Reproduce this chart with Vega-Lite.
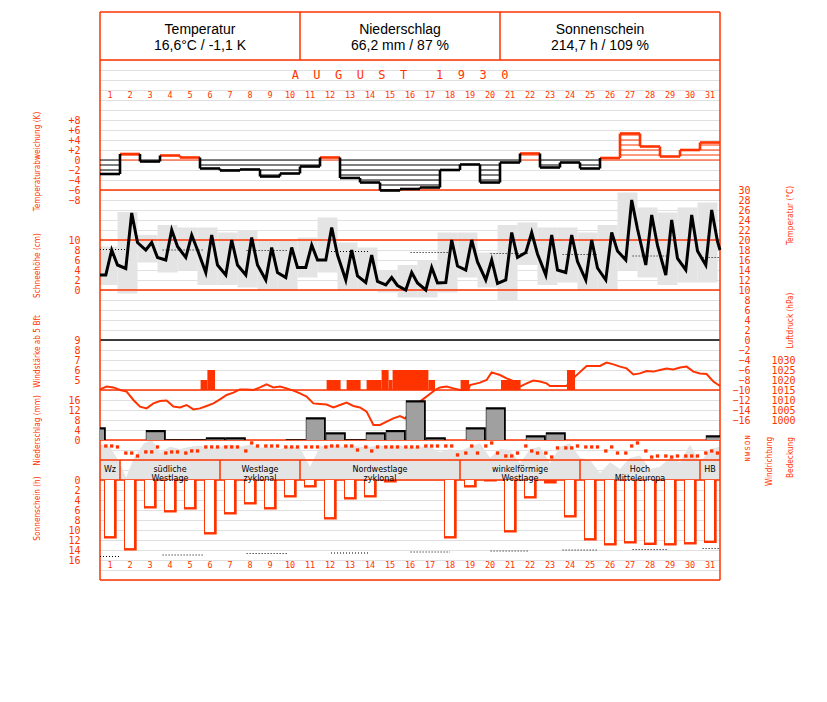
{
"$schema": "https://vega.github.io/schema/vega-lite/v6.json",
"width": 620, "height": 568,
"autosize": {"type": "none"},
"padding": {"left": 100, "top": 12, "right": 107, "bottom": 122},
"background": "white",
"config": {
 "view": {"stroke": null},
 "axis": {"domain": false, "ticks": false, "tickSize": 0, "grid": false, "labelColor": "#ff3300", "titleColor": "#ff3300", "labelFont": "DejaVu Sans Mono", "labelFontSize": 10, "titleFont": "Liberation Sans Narrow, DejaVu Sans Condensed, sans-serif", "titleFontSize": 8.2, "titleFontWeight": "normal", "labelPadding": 20, "titleAngle": -90, "titleAlign": "center", "titleBaseline": "middle", "labelFlush": false, "labelOverlap": false, "titleLimit": 1000}
},
"resolve": {"scale": {"y": "independent"}, "axis": {"y": "independent"}},
"datasets": {
 "dev": [{"day":1,"dev":-2.8},{"day":2,"dev":1.2},{"day":3,"dev":-0.3},{"day":4,"dev":0.9},{"day":5,"dev":0.5},{"day":6,"dev":-1.7},{"day":7,"dev":-2.1},{"day":8,"dev":-1.9},{"day":9,"dev":-3.3},{"day":10,"dev":-2.7},{"day":11,"dev":-1.3},{"day":12,"dev":0.5},{"day":13,"dev":-3.6},{"day":14,"dev":-4.5},{"day":15,"dev":-6.1},{"day":16,"dev":-5.8},{"day":17,"dev":-5.5},{"day":18,"dev":-2.0},{"day":19,"dev":-0.9},{"day":20,"dev":-4.5},{"day":21,"dev":-0.5},{"day":22,"dev":1.3},{"day":23,"dev":-1.5},{"day":24,"dev":-0.5},{"day":25,"dev":-1.7},{"day":26,"dev":0.4},{"day":27,"dev":5.3},{"day":28,"dev":2.7},{"day":29,"dev":0.7},{"day":30,"dev":2.0},{"day":31,"dev":3.5}],
 "sun": [{"day":1,"h":11.7},{"day":2,"h":14.1},{"day":3,"h":5.7},{"day":4,"h":6.5},{"day":5,"h":5.9},{"day":6,"h":10.9},{"day":7,"h":6.9},{"day":8,"h":4.9},{"day":9,"h":5.9},{"day":10,"h":3.5},{"day":11,"h":1.5},{"day":12,"h":7.9},{"day":13,"h":3.9},{"day":14,"h":3.5},{"day":15,"h":0.5},{"day":16,"h":0},{"day":17,"h":0},{"day":18,"h":11.7},{"day":19,"h":1.5},{"day":20,"h":0.3},{"day":21,"h":10.5},{"day":22,"h":3.7},{"day":23,"h":0.7},{"day":24,"h":7.5},{"day":25,"h":12.1},{"day":26,"h":13.1},{"day":27,"h":12.7},{"day":28,"h":13.0},{"day":29,"h":13.1},{"day":30,"h":12.9},{"day":31,"h":12.6}],
 "sunref": [{"x0":0,"x1":1,"h":15.3},{"x0":3.13,"x1":5.2,"h":15.0},{"x0":7.33,"x1":9.42,"h":14.7},{"x0":11.55,"x1":13.5,"h":14.6},{"x0":15.53,"x1":17.5,"h":14.4},{"x0":19.53,"x1":21.38,"h":14.2},{"x0":23.13,"x1":24.88,"h":14.0},{"x0":26.63,"x1":28.38,"h":13.9},{"x0":30.13,"x1":31,"h":13.7}],
 "precip": [{"day":0,"mm":5.1},{"day":3,"mm":4.0},{"day":4,"mm":0.3},{"day":5,"mm":0.3},{"day":6,"mm":1.1},{"day":7,"mm":1.1},{"day":10,"mm":0.3},{"day":11,"mm":9.1},{"day":12,"mm":3.1},{"day":13,"mm":0.3},{"day":14,"mm":3.1},{"day":15,"mm":4.0},{"day":16,"mm":15.9},{"day":17,"mm":1.1},{"day":19,"mm":5.1},{"day":20,"mm":13.1},{"day":22,"mm":1.9},{"day":23,"mm":3.1},{"day":31,"mm":1.9}],
 "wind": [{"x0":5.03,"x1":5.37,"bft":5},{"x0":5.37,"x1":5.75,"bft":6},{"x0":11.33,"x1":12.03,"bft":5},{"x0":12.33,"x1":13.03,"bft":5},{"x0":13.33,"x1":14.08,"bft":5},{"x0":14.08,"x1":14.43,"bft":6},{"x0":14.43,"x1":14.63,"bft":5},{"x0":14.63,"x1":16.42,"bft":6},{"x0":16.42,"x1":16.75,"bft":5},{"x0":18.03,"x1":18.45,"bft":5},{"x0":20.05,"x1":21.03,"bft":5},{"x0":23.35,"x1":23.75,"bft":6}],
 "pressure": [{"t":0,"p":1015.3},{"t":0.33,"p":1016.7},{"t":0.67,"p":1016.3},{"t":1.0,"p":1015},{"t":1.33,"p":1014.2},{"t":1.67,"p":1010},{"t":2.0,"p":1006.7},{"t":2.33,"p":1005.8},{"t":2.67,"p":1008.3},{"t":3.0,"p":1009.5},{"t":3.33,"p":1009.7},{"t":3.67,"p":1006.7},{"t":4.0,"p":1006.3},{"t":4.33,"p":1007.5},{"t":4.67,"p":1005.3},{"t":5.0,"p":1005.8},{"t":5.33,"p":1007},{"t":5.67,"p":1008.3},{"t":6.0,"p":1010.3},{"t":6.33,"p":1012.5},{"t":6.67,"p":1013.7},{"t":7.0,"p":1015.3},{"t":7.33,"p":1015.3},{"t":7.67,"p":1015},{"t":8.0,"p":1016.3},{"t":8.33,"p":1017.8},{"t":8.67,"p":1016.3},{"t":9.0,"p":1016.7},{"t":9.33,"p":1015.8},{"t":9.67,"p":1014.7},{"t":10.0,"p":1013.3},{"t":10.33,"p":1011.7},{"t":10.67,"p":1008.3},{"t":11.0,"p":1008},{"t":11.33,"p":1007.7},{"t":11.67,"p":1006.3},{"t":12.0,"p":1007.5},{"t":12.33,"p":1008.7},{"t":12.67,"p":1007},{"t":13.0,"p":1006.3},{"t":13.33,"p":1004.2},{"t":13.67,"p":997.5},{"t":14.0,"p":997.5},{"t":14.33,"p":999.2},{"t":14.67,"p":1000.8},{"t":15.0,"p":1002},{"t":15.25,"p":1000.8},{"t":16.0,"p":1009.2},{"t":16.75,"p":1015},{"t":17.0,"p":1016.3},{"t":17.33,"p":1016.7},{"t":17.67,"p":1015.8},{"t":18.0,"p":1015},{"t":18.42,"p":1015},{"t":18.5,"p":1017.5},{"t":19.0,"p":1018.7},{"t":19.33,"p":1020},{"t":19.58,"p":1023.8},{"t":20.0,"p":1022.5},{"t":20.33,"p":1020.8},{"t":20.67,"p":1019.5},{"t":21.0,"p":1016.7},{"t":21.33,"p":1018.3},{"t":21.67,"p":1019.7},{"t":22.0,"p":1019.2},{"t":22.33,"p":1018.3},{"t":22.5,"p":1017},{"t":23.33,"p":1017},{"t":23.75,"p":1021.7},{"t":24.33,"p":1027},{"t":25.0,"p":1027},{"t":25.33,"p":1028.7},{"t":25.67,"p":1027.8},{"t":26.0,"p":1026.7},{"t":26.33,"p":1025.8},{"t":26.67,"p":1022.8},{"t":27.0,"p":1023.3},{"t":27.33,"p":1024.5},{"t":27.67,"p":1024.2},{"t":28.0,"p":1025},{"t":28.33,"p":1025.7},{"t":28.67,"p":1025.3},{"t":29.0,"p":1026.2},{"t":29.33,"p":1026.7},{"t":29.67,"p":1024.2},{"t":30.0,"p":1023.3},{"t":30.33,"p":1023},{"t":30.67,"p":1019.2},{"t":31.0,"p":1017}],
 "temp": [{"t":0.0,"c":13},{"t":0.29,"c":13},{"t":0.585,"c":18},{"t":0.875,"c":15},{"t":1.29,"c":14.3},{"t":1.585,"c":25.4},{"t":1.875,"c":19.5},{"t":2.29,"c":18},{"t":2.585,"c":19.5},{"t":2.875,"c":16.5},{"t":3.29,"c":16},{"t":3.585,"c":22},{"t":3.875,"c":18.7},{"t":4.29,"c":16.5},{"t":4.585,"c":21},{"t":4.875,"c":18},{"t":5.29,"c":13.5},{"t":5.585,"c":21},{"t":5.875,"c":15},{"t":6.29,"c":13},{"t":6.585,"c":20},{"t":6.875,"c":15},{"t":7.29,"c":13},{"t":7.585,"c":20.5},{"t":7.875,"c":15},{"t":8.29,"c":12},{"t":8.585,"c":18.5},{"t":8.875,"c":13.5},{"t":9.29,"c":12.5},{"t":9.585,"c":18.5},{"t":9.875,"c":14.5},{"t":10.29,"c":14.5},{"t":10.585,"c":19},{"t":10.875,"c":16},{"t":11.29,"c":16},{"t":11.585,"c":22.5},{"t":11.875,"c":17},{"t":12.29,"c":12},{"t":12.585,"c":18},{"t":12.875,"c":12.8},{"t":13.29,"c":11.5},{"t":13.585,"c":17},{"t":13.875,"c":11.7},{"t":14.29,"c":11},{"t":14.585,"c":12.5},{"t":14.875,"c":10.9},{"t":15.29,"c":10},{"t":15.585,"c":13.5},{"t":15.875,"c":11.4},{"t":16.29,"c":10},{"t":16.585,"c":14.5},{"t":16.875,"c":11.4},{"t":17.29,"c":11.5},{"t":17.585,"c":20},{"t":17.875,"c":14.8},{"t":18.29,"c":14},{"t":18.585,"c":20},{"t":18.875,"c":15.6},{"t":19.29,"c":12},{"t":19.585,"c":16},{"t":19.875,"c":11.3},{"t":20.29,"c":12},{"t":20.585,"c":21.5},{"t":20.875,"c":16.5},{"t":21.29,"c":17.5},{"t":21.585,"c":21.5},{"t":21.875,"c":17.2},{"t":22.29,"c":13},{"t":22.585,"c":21},{"t":22.875,"c":14},{"t":23.29,"c":13.5},{"t":23.585,"c":21},{"t":23.875,"c":15.7},{"t":24.29,"c":12},{"t":24.585,"c":20},{"t":24.875,"c":14.4},{"t":25.29,"c":12},{"t":25.585,"c":21.5},{"t":25.875,"c":17.8},{"t":26.29,"c":16},{"t":26.585,"c":28},{"t":26.875,"c":22.2},{"t":27.29,"c":15},{"t":27.585,"c":25},{"t":27.875,"c":18.9},{"t":28.29,"c":13},{"t":28.585,"c":24},{"t":28.875,"c":16.3},{"t":29.29,"c":14},{"t":29.585,"c":25},{"t":29.875,"c":17.8},{"t":30.29,"c":15},{"t":30.585,"c":26},{"t":30.875,"c":19.7},{"t":31.0,"c":18}],
 "trange": [{"day":1,"lo":11,"hi":18.7},{"day":2,"lo":9.3,"hi":25.6},{"day":3,"lo":15.5,"hi":21},{"day":4,"lo":13.5,"hi":23},{"day":5,"lo":14,"hi":22.5},{"day":6,"lo":11,"hi":22.5},{"day":7,"lo":11,"hi":21.5},{"day":8,"lo":10.5,"hi":22},{"day":9,"lo":10,"hi":20},{"day":10,"lo":10,"hi":20},{"day":11,"lo":12.5,"hi":20.5},{"day":12,"lo":13.5,"hi":24.5},{"day":13,"lo":10,"hi":19.5},{"day":14,"lo":10,"hi":18.5},{"day":15,"lo":9.5,"hi":14},{"day":16,"lo":8.5,"hi":15},{"day":17,"lo":8.5,"hi":16},{"day":18,"lo":9.5,"hi":21.5},{"day":19,"lo":12.5,"hi":21.5},{"day":20,"lo":10.5,"hi":17.5},{"day":21,"lo":8,"hi":23},{"day":22,"lo":15,"hi":23.5},{"day":23,"lo":11,"hi":22.5},{"day":24,"lo":11.5,"hi":22.5},{"day":25,"lo":10,"hi":21.5},{"day":26,"lo":10,"hi":23},{"day":27,"lo":14,"hi":29.5},{"day":28,"lo":12.5,"hi":26.5},{"day":29,"lo":11,"hi":25.5},{"day":30,"lo":11.5,"hi":26.5},{"day":31,"lo":11.5,"hi":27.5}],
 "tref": [{"x0":0,"x1":1.5,"c":18.1},{"x0":3.13,"x1":5.2,"c":18.0},{"x0":7.33,"x1":9.42,"c":17.9},{"x0":11.55,"x1":13.5,"c":17.7},{"x0":15.53,"x1":17.5,"c":17.5},{"x0":19.53,"x1":21.38,"c":17.3},{"x0":23.13,"x1":24.88,"c":17.1},{"x0":26.63,"x1":28.38,"c":16.8},{"x0":30.13,"x1":31,"c":16.5}],
 "cloud": [{"t":0.29,"c":7.5},{"t":0.585,"c":7.5},{"t":0.875,"c":6.9},{"t":1.29,"c":3.1},{"t":1.585,"c":3.1},{"t":1.875,"c":1.25},{"t":2.29,"c":3.8},{"t":2.585,"c":3.8},{"t":2.875,"c":6.9},{"t":3.29,"c":3.1},{"t":3.585,"c":3.8},{"t":3.875,"c":3.8},{"t":4.29,"c":3.1},{"t":4.585,"c":4.4},{"t":4.875,"c":4.4},{"t":5.29,"c":6.9},{"t":5.585,"c":6.9},{"t":5.875,"c":6.9},{"t":6.29,"c":6.9},{"t":6.585,"c":6.9},{"t":6.875,"c":6.9},{"t":7.29,"c":4.4},{"t":7.585,"c":9.4},{"t":7.875,"c":7.5},{"t":8.29,"c":7.5},{"t":8.585,"c":7.5},{"t":8.875,"c":7.5},{"t":9.29,"c":6.9},{"t":9.585,"c":6.9},{"t":9.875,"c":6.9},{"t":10.29,"c":6.9},{"t":10.585,"c":6.9},{"t":10.875,"c":6.9},{"t":11.29,"c":6.9},{"t":11.585,"c":7.5},{"t":11.875,"c":7.5},{"t":12.29,"c":7.5},{"t":12.585,"c":7.5},{"t":12.875,"c":5},{"t":13.29,"c":6.9},{"t":13.585,"c":4.4},{"t":13.875,"c":6.9},{"t":14.29,"c":6.9},{"t":14.585,"c":6.9},{"t":14.875,"c":6.9},{"t":15.29,"c":6.9},{"t":15.585,"c":6.9},{"t":15.875,"c":6.9},{"t":16.29,"c":7.5},{"t":16.585,"c":7.5},{"t":16.875,"c":7.5},{"t":17.29,"c":7.5},{"t":17.585,"c":7.5},{"t":17.875,"c":1.9},{"t":18.29,"c":3.1},{"t":18.585,"c":7.5},{"t":18.875,"c":3.1},{"t":19.29,"c":7.5},{"t":19.585,"c":9.4},{"t":19.875,"c":3.1},{"t":20.29,"c":1.25},{"t":20.585,"c":1.25},{"t":20.875,"c":3.1},{"t":21.29,"c":7.5},{"t":21.585,"c":4.4},{"t":21.875,"c":3.1},{"t":22.29,"c":3.1},{"t":22.585,"c":0.6},{"t":22.875,"c":6.3},{"t":23.29,"c":6.3},{"t":23.585,"c":6.3},{"t":23.875,"c":7.5},{"t":24.29,"c":6.9},{"t":24.585,"c":6.9},{"t":24.875,"c":6.9},{"t":25.29,"c":4.4},{"t":25.585,"c":6.9},{"t":25.875,"c":3.1},{"t":26.29,"c":3.1},{"t":26.585,"c":7.5},{"t":26.875,"c":9.4},{"t":27.29,"c":4.4},{"t":27.585,"c":0.6},{"t":27.875,"c":1.25},{"t":28.29,"c":1.25},{"t":28.585,"c":0.6},{"t":28.875,"c":1.25},{"t":29.29,"c":1.25},{"t":29.585,"c":1.25},{"t":29.875,"c":1.25},{"t":30.29,"c":3.1},{"t":30.585,"c":4.4},{"t":30.875,"c":3.1}],
 "wdir": [{"t":0,"v":320},{"t":0.5,"v":300},{"t":1.0,"v":150},{"t":1.3,"v":20},{"t":1.7,"v":200},{"t":2.2,"v":330},{"t":2.6,"v":360},{"t":3.0,"v":250},{"t":3.5,"v":300},{"t":4.0,"v":280},{"t":4.5,"v":300},{"t":5.0,"v":310},{"t":5.5,"v":280},{"t":6.0,"v":300},{"t":6.5,"v":320},{"t":7.0,"v":300},{"t":7.5,"v":320},{"t":8.0,"v":290},{"t":8.5,"v":300},{"t":9.0,"v":280},{"t":9.5,"v":300},{"t":10.0,"v":290},{"t":10.5,"v":120},{"t":11.0,"v":300},{"t":11.5,"v":320},{"t":12.0,"v":300},{"t":12.5,"v":310},{"t":13.0,"v":300},{"t":13.5,"v":300},{"t":14.0,"v":310},{"t":14.5,"v":300},{"t":15.0,"v":310},{"t":15.5,"v":290},{"t":16.0,"v":300},{"t":16.5,"v":300},{"t":17.0,"v":250},{"t":17.5,"v":280},{"t":18.0,"v":260},{"t":18.5,"v":300},{"t":19.0,"v":330},{"t":19.5,"v":200},{"t":20.0,"v":280},{"t":20.5,"v":270},{"t":21.0,"v":150},{"t":21.5,"v":280},{"t":22.0,"v":300},{"t":22.5,"v":150},{"t":23.0,"v":300},{"t":23.5,"v":330},{"t":24.0,"v":200},{"t":24.5,"v":180},{"t":25.0,"v":60},{"t":25.5,"v":160},{"t":26.0,"v":100},{"t":26.5,"v":200},{"t":27.0,"v":220},{"t":27.5,"v":100},{"t":28.0,"v":120},{"t":28.5,"v":200},{"t":29.0,"v":160},{"t":29.5,"v":320},{"t":30.0,"v":150},{"t":30.5,"v":280},{"t":31.0,"v":300}],
 "gwl": [{"lab":"Wz","mid":0.5},{"lab":"südliche\nWestlage","mid":3.5},{"lab":"Westlage\nzyklonal","mid":8},{"lab":"Nordwestlage\nzyklonal","mid":14},{"lab":"winkelförmige\nWestlage","mid":21},{"lab":"Hoch\nMitteleuropa","mid":27},{"lab":"HB","mid":30.5}],
 "hlines": [{"r":-4.8,"col":"#ff3300"},{"r":0,"col":"#ff3300"},{"r":13,"col":"#ff3300"},{"r":18,"col":"#ff3300"},{"r":23,"col":"#ff3300"},{"r":28,"col":"black"},{"r":33,"col":"#ff3300"},{"r":38,"col":"#ff3300"},{"r":40,"col":"#ff3300"},{"r":42,"col":"#ff3300"},{"r":52,"col":"#ff3300"}],
 "vlines": [{"t":0,"r0":-4.8,"r1":52},{"t":31,"r0":-4.8,"r1":52},{"t":10,"r0":-4.8,"r1":0},{"t":20,"r0":-4.8,"r1":0},{"t":1,"r0":40,"r1":42},{"t":6,"r0":40,"r1":42},{"t":10,"r0":40,"r1":42},{"t":18,"r0":40,"r1":42},{"t":24,"r0":40,"r1":42},{"t":30,"r0":40,"r1":42}],
 "header": [{"t":5,"r":-3.0,"txt":"Temperatur"},{"t":5,"r":-1.4,"txt":"16,6°C / -1,1 K"},{"t":15,"r":-3.0,"txt":"Niederschlag"},{"t":15,"r":-1.4,"txt":"66,2 mm / 87 %"},{"t":25,"r":-3.0,"txt":"Sonnenschein"},{"t":25,"r":-1.4,"txt":"214,7 h / 109 %"}]
},
"layer": [
 {"data": {"values": [{"x0":0,"x1":31,"r0":-4.8,"r1":0}]}, "mark": {"type": "rect", "fill": "white"},
  "encoding": {"x": {"field": "x0", "type": "quantitative", "scale": {"domain": [0,31], "nice": false, "zero": false}, "axis": {"values": [0,1,2,3,4,5,6,7,8,9,10,11,12,13,14,15,16,17,18,19,20,21,22,23,24,25,26,27,28,29,30,31], "grid": true, "gridColor": "#e0e0e0", "gridWidth": 1, "labels": false, "title": null}}, "x2": {"field": "x1"},
   "y": {"field": "r0", "type": "quantitative", "scale": {"domain": [-4.8,52], "range": [0,568], "nice": false, "zero": false}, "axis": {"orient": "left", "values": [0,1,2,3,4,5,6,7,8,9,10,11,12,13,14,15,16,17,18,19,20,21,22,23,24,25,26,27,28,29,30,31,32,33,34,35,36,37,38,39,40,41,42,43,44,45,46,47,48,49,50,51,52], "grid": true, "gridColor": "#e0e0e0", "gridWidth": 1, "labels": false, "title": null}}, "y2": {"field": "r1"}}},
 {"data": {"name": "trange"}, "mark": {"type": "rect", "fill": "#e4e4e4", "xOffset": -22.5, "x2Offset": -2.5, "clip": true},
  "encoding": {"x": {"field": "day", "type": "quantitative", "scale": {"domain": [0,31], "nice": false, "zero": false}, "axis": null}, "x2": {"field": "day"},
   "y": {"field": "lo", "type": "quantitative", "scale": {"domain": [-16,30], "range": [408,178], "nice": false, "zero": false}, "axis": null}, "y2": {"field": "hi"}}},
 {"data": {"name": "wdir"}, "mark": {"type": "area", "fill": "#e4e4e4"},
  "encoding": {"x": {"field": "t", "type": "quantitative", "scale": {"domain": [0,31], "nice": false, "zero": false}, "axis": null},
   "y": {"field": "v", "type": "quantitative", "scale": {"domain": [0,360], "range": [468,428], "nice": false, "zero": false}, "axis": null}, "y2": {"datum": 0}}},
 {"data": {"name": "hlines"}, "mark": {"type": "rule", "strokeWidth": 1.5},
  "encoding": {
   "y": {"field": "r", "type": "quantitative", "scale": {"domain": [-4.8,52], "range": [0,568], "nice": false, "zero": false}, "axis": null},
   "color": {"field": "col", "type": "nominal", "scale": null}}},
 {"data": {"name": "vlines"}, "mark": {"type": "rule", "strokeWidth": 1.5, "color": "#ff3300"},
  "encoding": {"x": {"field": "t", "type": "quantitative", "scale": {"domain": [0,31], "nice": false, "zero": false}, "axis": null},
   "y": {"field": "r0", "type": "quantitative", "scale": {"domain": [-4.8,52], "range": [0,568], "nice": false, "zero": false}, "axis": null}, "y2": {"field": "r1"}}},
 {"data": {"name": "header"}, "mark": {"type": "text", "font": "Liberation Sans", "fontSize": 14, "color": "black", "baseline": "middle"},
  "encoding": {"x": {"field": "t", "type": "quantitative", "scale": {"domain": [0,31], "nice": false, "zero": false}, "axis": null},
   "y": {"field": "r", "type": "quantitative", "scale": {"domain": [-4.8,52], "range": [0,568], "nice": false, "zero": false}, "axis": null}, "text": {"field": "txt", "type": "nominal"}}},
 {"data": {"values": [{"txt": "A\u00a0\u00a0U\u00a0\u00a0G\u00a0\u00a0U\u00a0\u00a0S\u00a0\u00a0T\u00a0\u00a0\u00a0\u00a01\u00a0\u00a09\u00a0\u00a03\u00a0\u00a00"}]}, "mark": {"type": "text", "font": "DejaVu Sans Mono", "fontSize": 12, "color": "#ff3300", "baseline": "middle"},
  "encoding": {"x": {"datum": 15, "type": "quantitative", "scale": {"domain": [0,31], "nice": false, "zero": false}, "axis": null},
   "y": {"datum": 1.5, "type": "quantitative", "scale": {"domain": [-4.8,52], "range": [0,568], "nice": false, "zero": false}, "axis": null}, "text": {"field": "txt", "type": "nominal"}}},
 {"data": {"name": "dev"}, "mark": {"type": "text", "font": "DejaVu Sans Mono", "fontSize": 8.5, "color": "#ff3300", "baseline": "middle", "xOffset": -10},
  "encoding": {"x": {"field": "day", "type": "quantitative", "scale": {"domain": [0,31], "nice": false, "zero": false}, "axis": null},
   "y": {"datum": 3.5, "type": "quantitative", "scale": {"domain": [-4.8,52], "range": [0,568], "nice": false, "zero": false}, "axis": null}, "text": {"field": "day", "type": "nominal"}}},
 {"data": {"name": "dev"}, "mark": {"type": "text", "font": "DejaVu Sans Mono", "fontSize": 8.5, "color": "#ff3300", "baseline": "middle", "xOffset": -10},
  "encoding": {"x": {"field": "day", "type": "quantitative", "scale": {"domain": [0,31], "nice": false, "zero": false}, "axis": null},
   "y": {"datum": 50.5, "type": "quantitative", "scale": {"domain": [-4.8,52], "range": [0,568], "nice": false, "zero": false}, "axis": null}, "text": {"field": "day", "type": "nominal"}}},
 {"data": {"name": "dev"}, "mark": {"type": "rule", "strokeWidth": 1, "xOffset": -20},
  "encoding": {"x": {"field": "day", "type": "quantitative", "scale": {"domain": [0,31], "nice": false, "zero": false}, "axis": null}, "x2": {"field": "day"},
   "y": {"datum": 0, "type": "quantitative", "scale": {"domain": [-8,8], "range": [188,108], "nice": false, "zero": false}, "axis": null},
   "color": {"condition": {"test": "datum.dev >= 0", "value": "#ff3300"}, "value": "black"}}},
 {"data": {"name": "dev"}, "transform": [{"filter": "datum.dev <= -1"}], "mark": {"type": "rule", "strokeWidth": 1, "xOffset": -20, "color": "black"},
  "encoding": {"x": {"field": "day", "type": "quantitative", "scale": {"domain": [0,31], "nice": false, "zero": false}, "axis": null}, "x2": {"field": "day"},
   "y": {"datum": -1, "type": "quantitative", "scale": {"domain": [-8,8], "range": [188,108], "nice": false, "zero": false}, "axis": null}}},
 {"data": {"name": "dev"}, "transform": [{"filter": "datum.dev <= -2"}], "mark": {"type": "rule", "strokeWidth": 1, "xOffset": -20, "color": "black"},
  "encoding": {"x": {"field": "day", "type": "quantitative", "scale": {"domain": [0,31], "nice": false, "zero": false}, "axis": null}, "x2": {"field": "day"},
   "y": {"datum": -2, "type": "quantitative", "scale": {"domain": [-8,8], "range": [188,108], "nice": false, "zero": false}, "axis": null}}},
 {"data": {"name": "dev"}, "transform": [{"filter": "datum.dev <= -3"}], "mark": {"type": "rule", "strokeWidth": 1, "xOffset": -20, "color": "black"},
  "encoding": {"x": {"field": "day", "type": "quantitative", "scale": {"domain": [0,31], "nice": false, "zero": false}, "axis": null}, "x2": {"field": "day"},
   "y": {"datum": -3, "type": "quantitative", "scale": {"domain": [-8,8], "range": [188,108], "nice": false, "zero": false}, "axis": null}}},
 {"data": {"name": "dev"}, "transform": [{"filter": "datum.dev <= -4"}], "mark": {"type": "rule", "strokeWidth": 1, "xOffset": -20, "color": "black"},
  "encoding": {"x": {"field": "day", "type": "quantitative", "scale": {"domain": [0,31], "nice": false, "zero": false}, "axis": null}, "x2": {"field": "day"},
   "y": {"datum": -4, "type": "quantitative", "scale": {"domain": [-8,8], "range": [188,108], "nice": false, "zero": false}, "axis": null}}},
 {"data": {"name": "dev"}, "transform": [{"filter": "datum.dev <= -5"}], "mark": {"type": "rule", "strokeWidth": 1, "xOffset": -20, "color": "black"},
  "encoding": {"x": {"field": "day", "type": "quantitative", "scale": {"domain": [0,31], "nice": false, "zero": false}, "axis": null}, "x2": {"field": "day"},
   "y": {"datum": -5, "type": "quantitative", "scale": {"domain": [-8,8], "range": [188,108], "nice": false, "zero": false}, "axis": null}}},
 {"data": {"name": "dev"}, "transform": [{"filter": "datum.dev <= -6"}], "mark": {"type": "rule", "strokeWidth": 1, "xOffset": -20, "color": "black"},
  "encoding": {"x": {"field": "day", "type": "quantitative", "scale": {"domain": [0,31], "nice": false, "zero": false}, "axis": null}, "x2": {"field": "day"},
   "y": {"datum": -6, "type": "quantitative", "scale": {"domain": [-8,8], "range": [188,108], "nice": false, "zero": false}, "axis": null}}},
 {"data": {"name": "dev"}, "transform": [{"filter": "datum.dev >= 1"}], "mark": {"type": "rule", "strokeWidth": 1, "xOffset": -20, "color": "#ff3300"},
  "encoding": {"x": {"field": "day", "type": "quantitative", "scale": {"domain": [0,31], "nice": false, "zero": false}, "axis": null}, "x2": {"field": "day"},
   "y": {"datum": 1, "type": "quantitative", "scale": {"domain": [-8,8], "range": [188,108], "nice": false, "zero": false}, "axis": null}}},
 {"data": {"name": "dev"}, "transform": [{"filter": "datum.dev >= 2"}], "mark": {"type": "rule", "strokeWidth": 1, "xOffset": -20, "color": "#ff3300"},
  "encoding": {"x": {"field": "day", "type": "quantitative", "scale": {"domain": [0,31], "nice": false, "zero": false}, "axis": null}, "x2": {"field": "day"},
   "y": {"datum": 2, "type": "quantitative", "scale": {"domain": [-8,8], "range": [188,108], "nice": false, "zero": false}, "axis": null}}},
 {"data": {"name": "dev"}, "transform": [{"filter": "datum.dev >= 3"}], "mark": {"type": "rule", "strokeWidth": 1, "xOffset": -20, "color": "#ff3300"},
  "encoding": {"x": {"field": "day", "type": "quantitative", "scale": {"domain": [0,31], "nice": false, "zero": false}, "axis": null}, "x2": {"field": "day"},
   "y": {"datum": 3, "type": "quantitative", "scale": {"domain": [-8,8], "range": [188,108], "nice": false, "zero": false}, "axis": null}}},
 {"data": {"name": "dev"}, "transform": [{"filter": "datum.dev >= 4"}], "mark": {"type": "rule", "strokeWidth": 1, "xOffset": -20, "color": "#ff3300"},
  "encoding": {"x": {"field": "day", "type": "quantitative", "scale": {"domain": [0,31], "nice": false, "zero": false}, "axis": null}, "x2": {"field": "day"},
   "y": {"datum": 4, "type": "quantitative", "scale": {"domain": [-8,8], "range": [188,108], "nice": false, "zero": false}, "axis": null}}},
 {"data": {"name": "dev"}, "transform": [{"filter": "datum.dev >= 5"}], "mark": {"type": "rule", "strokeWidth": 1, "xOffset": -20, "color": "#ff3300"},
  "encoding": {"x": {"field": "day", "type": "quantitative", "scale": {"domain": [0,31], "nice": false, "zero": false}, "axis": null}, "x2": {"field": "day"},
   "y": {"datum": 5, "type": "quantitative", "scale": {"domain": [-8,8], "range": [188,108], "nice": false, "zero": false}, "axis": null}}},
 {"data": {"name": "dev"}, "mark": {"type": "rect", "xOffset": -20, "yOffset": -1.3, "y2Offset": 1.3},
  "encoding": {"x": {"field": "day", "type": "quantitative", "scale": {"domain": [0,31], "nice": false, "zero": false}, "axis": null}, "x2": {"field": "day"},
   "y": {"field": "dev", "type": "quantitative", "scale": {"domain": [-8,8], "range": [188,108], "nice": false, "zero": false}, "axis": {"orient": "left", "values": [-8,-6,-4,-2,0,2,4,6,8], "labelExpr": "datum.value > 0 ? '+' + datum.label : datum.label", "title": "Temperaturabweichung (K)", "titleX": -63, "titleY": 149}}, "y2": {"field": "dev"},
   "color": {"condition": {"test": "datum.dev >= 0", "value": "#ff3300"}, "value": "black"}}},
 {"data": {"name": "dev"}, "transform": [{"window": [{"op": "lag", "field": "dev", "as": "prev"}], "sort": [{"field": "day"}]}, {"filter": "datum.prev != null"}], "mark": {"type": "rule", "strokeWidth": 2.6, "xOffset": -20},
  "encoding": {"x": {"field": "day", "type": "quantitative", "scale": {"domain": [0,31], "nice": false, "zero": false}, "axis": null},
   "y": {"field": "prev", "type": "quantitative", "scale": {"domain": [-8,8], "range": [188,108], "nice": false, "zero": false}, "axis": null}, "y2": {"field": "dev"},
   "color": {"condition": {"test": "datum.dev >= 0 && datum.prev >= 0", "value": "#ff3300"}, "value": "black"}}},
 {"data": {"name": "tref"}, "mark": {"type": "rule", "strokeWidth": 1, "strokeDash": [1,2], "color": "black"},
  "encoding": {"x": {"field": "x0", "type": "quantitative", "scale": {"domain": [0,31], "nice": false, "zero": false}, "axis": null}, "x2": {"field": "x1"},
   "y": {"field": "c", "type": "quantitative", "scale": {"domain": [-16,30], "range": [408,178], "nice": false, "zero": false}, "axis": null}}},
 {"data": {"name": "temp"}, "mark": {"type": "line", "strokeWidth": 3, "color": "black", "strokeJoin": "miter"},
  "encoding": {"x": {"field": "t", "type": "quantitative", "scale": {"domain": [0,31], "nice": false, "zero": false}, "axis": null},
   "y": {"field": "c", "type": "quantitative", "scale": {"domain": [-16,30], "range": [408,178], "nice": false, "zero": false}, "axis": {"orient": "right", "values": [30,28,26,24,22,20,18,16,14,12,10,8,6,4,2,0,-2,-4,-6,-8,-10,-12,-14,-16], "labelAlign": "right", "labelPadding": 30, "title": "Temperatur (°C)", "titleX": 70, "titleY": 203}}}},
 {"data": {"values": [{"s": 0}]}, "mark": {"type": "point", "opacity": 0},
  "encoding": {"x": {"datum": 1, "type": "quantitative", "scale": {"domain": [0,31], "nice": false, "zero": false}, "axis": null},
   "y": {"field": "s", "type": "quantitative", "scale": {"domain": [0,10], "range": [278,228], "nice": false, "zero": false}, "axis": {"orient": "left", "values": [0,2,4,6,8,10], "title": "Schneehöhe (cm)", "titleX": -63, "titleY": 253}}}},
 {"data": {"name": "wind"}, "mark": {"type": "rect", "color": "#ff3300"},
  "encoding": {"x": {"field": "x0", "type": "quantitative", "scale": {"domain": [0,31], "nice": false, "zero": false}, "axis": null}, "x2": {"field": "x1"},
   "y": {"field": "bft", "type": "quantitative", "scale": {"domain": [4,9], "range": [378,328], "nice": false, "zero": false}, "axis": {"orient": "left", "values": [5,6,7,8,9], "title": "Windstärke ab 5 Bft", "titleX": -63, "titleY": 339}}, "y2": {"datum": 4}}},
 {"data": {"name": "pressure"}, "mark": {"type": "line", "strokeWidth": 2, "color": "#ff3300"},
  "encoding": {"x": {"field": "t", "type": "quantitative", "scale": {"domain": [0,31], "nice": false, "zero": false}, "axis": null},
   "y": {"field": "p", "type": "quantitative", "scale": {"domain": [1000,1030], "range": [408,348], "nice": false, "zero": false}, "axis": {"orient": "right", "values": [1000,1005,1010,1015,1020,1025,1030], "format": "d", "labelAlign": "right", "labelPadding": 75, "title": "Luftdruck (hPa)", "titleX": 70, "titleY": 308}}}},
 {"data": {"name": "precip"}, "mark": {"type": "rect", "color": "black", "xOffset": -14.2, "x2Offset": 5.8, "clip": true},
  "encoding": {"x": {"field": "day", "type": "quantitative", "scale": {"domain": [0,31], "nice": false, "zero": false}, "axis": null}, "x2": {"field": "day"},
   "y": {"field": "mm", "type": "quantitative", "scale": {"domain": [0,16], "range": [428,388], "nice": false, "zero": false}, "axis": {"orient": "left", "values": [0,4,8,12,16], "title": "Niederschlag (mm)", "titleX": -63, "titleY": 418}}, "y2": {"datum": 0}}},
 {"data": {"name": "precip"}, "transform": [{"filter": "datum.mm >= 1"}], "mark": {"type": "rect", "color": "#a0a0a0", "xOffset": -13.7, "x2Offset": 4.0, "yOffset": 2.2, "clip": true},
  "encoding": {"x": {"field": "day", "type": "quantitative", "scale": {"domain": [0,31], "nice": false, "zero": false}, "axis": null}, "x2": {"field": "day"},
   "y": {"field": "mm", "type": "quantitative", "scale": {"domain": [0,16], "range": [428,388], "nice": false, "zero": false}, "axis": null}, "y2": {"datum": 0}}},
 {"data": {"name": "cloud"}, "mark": {"type": "square", "color": "#ff3300", "size": 11, "opacity": 1, "filled": true},
  "encoding": {"x": {"field": "t", "type": "quantitative", "scale": {"domain": [0,31], "nice": false, "zero": false}, "axis": null},
   "y": {"field": "c", "type": "quantitative", "scale": {"domain": [0,10], "range": [446,430], "nice": false, "zero": false}, "axis": {"orient": "right", "labels": false, "title": "Bedeckung", "titleX": 70, "titleY": 445}}}},
 {"data": {"values": [{"w": 0}]}, "mark": {"type": "point", "opacity": 0},
  "encoding": {"x": {"datum": 1, "type": "quantitative", "scale": {"domain": [0,31], "nice": false, "zero": false}, "axis": null},
   "y": {"field": "w", "type": "quantitative", "scale": {"domain": [0,360], "range": [425,447], "nice": false, "zero": false}, "axis": {"orient": "right", "values": [0,90,180,270,360], "labelExpr": "datum.value == 90 ? 'O' : datum.value == 180 ? 'S' : datum.value == 270 ? 'W' : 'N'", "labelFontSize": 7, "labelAngle": -90, "labelAlign": "center", "labelBaseline": "middle", "labelPadding": 27, "title": "Windrichtung", "titleX": 49, "titleY": 449}}}},
 {"data": {"name": "sun"}, "transform": [{"filter": "datum.h > 0"}], "mark": {"type": "rect", "color": "#ff3300", "xOffset": -16, "x2Offset": -3.3},
  "encoding": {"x": {"field": "day", "type": "quantitative", "scale": {"domain": [0,31], "nice": false, "zero": false}, "axis": null}, "x2": {"field": "day"},
   "y": {"field": "h", "type": "quantitative", "scale": {"domain": [0,16], "range": [468,548], "nice": false, "zero": false}, "axis": {"orient": "left", "values": [0,2,4,6,8,10,12,14,16], "title": "Sonnenschein (h)", "titleX": -63, "titleY": 496}}, "y2": {"datum": 0}}},
 {"data": {"name": "sun"}, "transform": [{"filter": "datum.h >= 0.8"}], "mark": {"type": "rect", "color": "white", "xOffset": -15, "x2Offset": -6, "yOffset": -2.4},
  "encoding": {"x": {"field": "day", "type": "quantitative", "scale": {"domain": [0,31], "nice": false, "zero": false}, "axis": null}, "x2": {"field": "day"},
   "y": {"field": "h", "type": "quantitative", "scale": {"domain": [0,16], "range": [468,548], "nice": false, "zero": false}, "axis": null}, "y2": {"datum": 0}}},
 {"data": {"name": "sunref"}, "mark": {"type": "rule", "strokeWidth": 1, "strokeDash": [1,2], "color": "black"},
  "encoding": {"x": {"field": "x0", "type": "quantitative", "scale": {"domain": [0,31], "nice": false, "zero": false}, "axis": null}, "x2": {"field": "x1"},
   "y": {"field": "h", "type": "quantitative", "scale": {"domain": [0,16], "range": [468,548], "nice": false, "zero": false}, "axis": null}}},
 {"data": {"name": "gwl"}, "mark": {"type": "text", "font": "DejaVu Sans", "fontSize": 8, "color": "black", "baseline": "middle", "lineBreak": "\n", "lineHeight": 8.5},
  "encoding": {"x": {"field": "mid", "type": "quantitative", "scale": {"domain": [0,31], "nice": false, "zero": false}, "axis": null},
   "y": {"datum": 41, "type": "quantitative", "scale": {"domain": [-4.8,52], "range": [0,568], "nice": false, "zero": false}, "axis": null}, "text": {"field": "lab", "type": "nominal"}}}
]
}
